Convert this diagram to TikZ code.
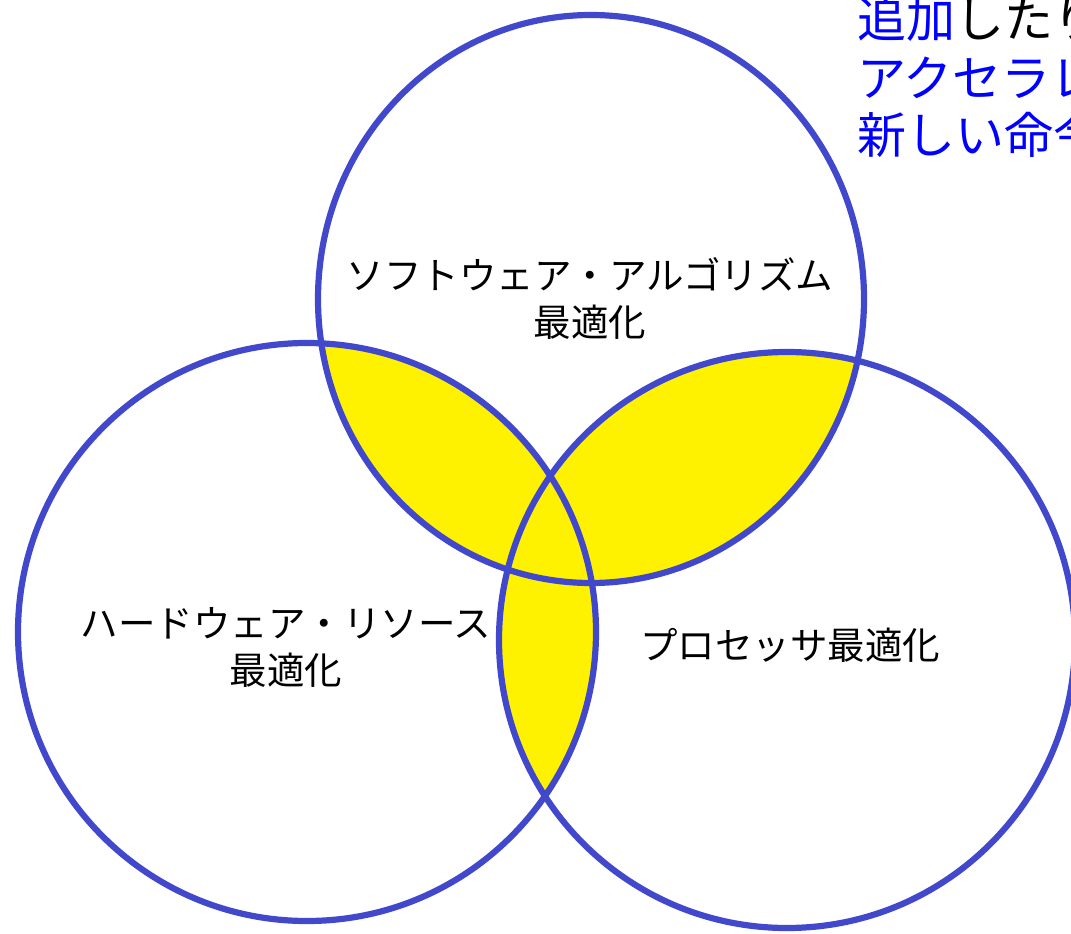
\documentclass[tikz,border=0pt]{standalone}
\usepackage{fontspec}
\newfontfamily\jp{Noto Sans CJK JP}
\definecolor{ring}{RGB}{66,72,204}
\definecolor{lens}{RGB}{255,242,0}
\definecolor{note}{RGB}{0,0,255}
\tikzset{
  ringline/.style={draw=ring, line width=6.2pt},
  label/.style={font=\jp\fontsize{37.5}{47}\selectfont, inner sep=0pt, align=center, text=black},
  notetext/.style={font=\jp\fontsize{49}{57}\selectfont, inner sep=0pt, anchor=base west, text=note}
}
\begin{document}
\begin{tikzpicture}[x=1pt,y=-1pt]
\useasboundingbox (0,0) rectangle (1071,934);
\clip (0,0) rectangle (1071,934);
% yellow pairwise overlaps
\begin{scope}
  \clip (591,299) ellipse [x radius=273, y radius=284];
  \fill[lens] (307,632) circle [radius=289];
  \fill[lens] (787,640) circle [radius=288];
\end{scope}
\begin{scope}
  \clip (307,632) circle [radius=289];
  \fill[lens] (787,640) circle [radius=288];
\end{scope}
% rings
\draw[ringline] (591,299) ellipse [x radius=273, y radius=284];
\draw[ringline] (307,632) circle [radius=289];
\draw[ringline] (787,640) circle [radius=288];
% labels
\node[label] (sw) at (590,298) {ソフトウェア・アルゴリズム\\最適化};
\node[label] (hw) at (286,647) {ハードウェア・リソース\\最適化};
\node[label] (cpu) at (790,645) {プロセッサ最適化};
% note at top right, cut off by the picture's edge as in the reference
\node[notetext] (n1) at (857,38) {追加\textcolor{black}{したり}};
\node[notetext] (n2) at (857,96) {アクセラレ};
\node[notetext] (n3) at (857,153) {新しい命令};
\end{tikzpicture}
\end{document}
